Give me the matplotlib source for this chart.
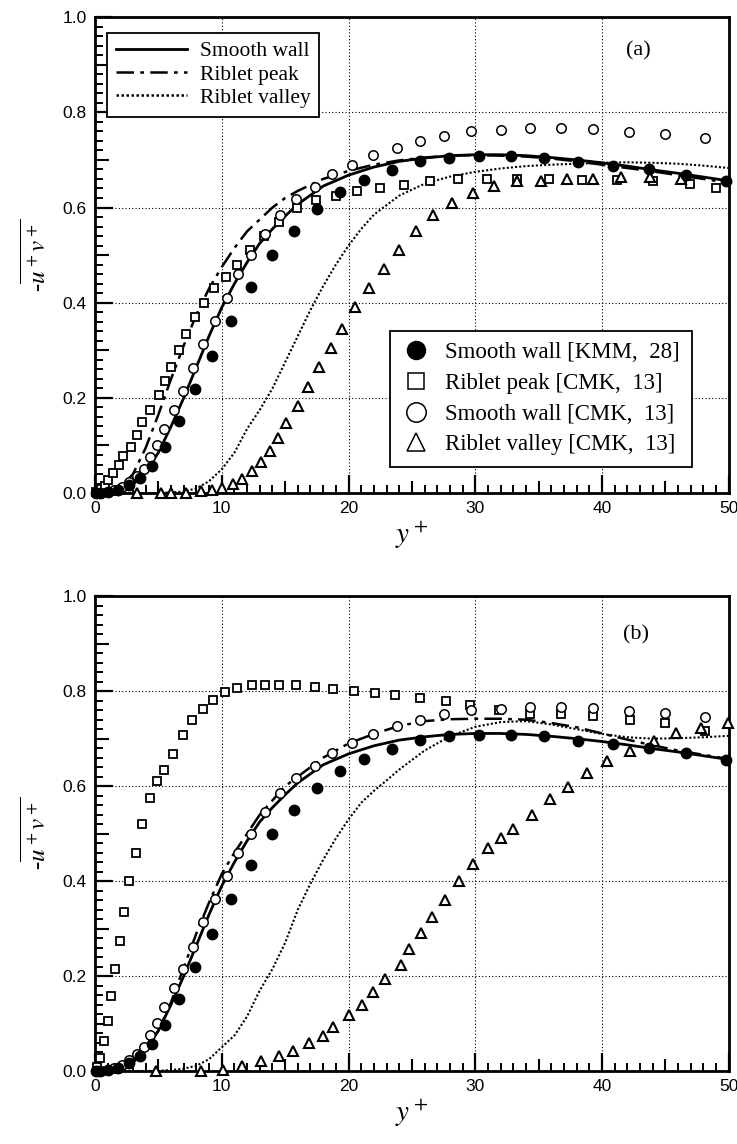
import matplotlib
matplotlib.use("Agg")
import matplotlib.pyplot as plt
from matplotlib.lines import Line2D
from matplotlib.ticker import MultipleLocator

plt.rcParams["mathtext.fontset"] = "stix"

# ---- shared data (both panels) ----
kmm_y = [0.05, 0.4, 1.05, 1.84, 2.7, 3.55, 4.47, 5.5, 6.6, 7.9, 9.2, 10.7, 12.3, 14.0,
         15.7, 17.5, 19.3, 21.2, 23.4, 25.6, 27.9, 30.3, 32.8, 35.4, 38.1, 40.9, 43.7,
         46.6, 49.8]
kmm_uv = [0.0, 0.0, 0.002, 0.006, 0.016, 0.031, 0.057, 0.096, 0.151, 0.219, 0.289, 0.362,
          0.433, 0.5, 0.55, 0.597, 0.632, 0.658, 0.679, 0.698, 0.705, 0.708, 0.708, 0.705,
          0.696, 0.688, 0.681, 0.669, 0.656]

cmk_s_y = [0.1, 0.5, 1.0, 1.5, 2.1, 2.68, 3.3, 3.87, 4.34, 4.87, 5.45, 6.24, 6.97, 7.7,
           8.55, 9.47, 10.4, 11.3, 12.3, 13.4, 14.6, 15.87, 17.37, 18.7, 20.3, 21.9, 23.8,
           25.6, 27.5, 29.7, 32.0, 34.3, 36.8, 39.3, 42.1, 45.0, 48.1]
cmk_s_uv = [0.0, 0.001, 0.003, 0.007, 0.013, 0.023, 0.035, 0.051, 0.075, 0.101, 0.134,
            0.174, 0.215, 0.262, 0.313, 0.362, 0.41, 0.46, 0.5, 0.545, 0.585, 0.617, 0.643,
            0.67, 0.69, 0.71, 0.726, 0.739, 0.751, 0.76, 0.763, 0.767, 0.767, 0.765, 0.758,
            0.754, 0.746]

grid_y = [0, 1, 2, 3, 4, 5, 6, 7, 8, 9, 10, 11, 12, 13, 14, 15, 16, 18, 20, 22, 24, 26,
          28, 30, 32, 34, 36, 38, 40, 42, 44, 46, 48, 50]
smooth_uv = [0, 0.001, 0.005, 0.018, 0.045, 0.085, 0.14, 0.2, 0.265, 0.33, 0.39, 0.44,
             0.485, 0.525, 0.555, 0.582, 0.607, 0.645, 0.668, 0.685, 0.697, 0.704, 0.709,
             0.711, 0.711, 0.709, 0.705, 0.7, 0.694, 0.687, 0.679, 0.672, 0.664, 0.656]

# ---- panel (a) ----
peak_a_uv = [0, 0.002, 0.012, 0.04, 0.095, 0.165, 0.24, 0.31, 0.375, 0.43, 0.475, 0.515,
             0.55, 0.575, 0.6, 0.62, 0.635, 0.66, 0.677, 0.69, 0.699, 0.705, 0.709, 0.71,
             0.709, 0.707, 0.703, 0.697, 0.69, 0.683, 0.676, 0.668, 0.66, 0.652]
valley_a_y = [0, 5, 7, 8, 9, 10, 11, 12, 13, 14, 15, 16, 17, 18, 19, 20, 21, 22, 24, 26,
              28, 30, 32, 34, 36, 38, 40, 42, 44, 46, 48, 50]
valley_a_uv = [0, 0, 0.003, 0.01, 0.025, 0.05, 0.085, 0.135, 0.175, 0.22, 0.275, 0.33,
               0.385, 0.435, 0.48, 0.52, 0.555, 0.585, 0.625, 0.65, 0.665, 0.675, 0.682,
               0.687, 0.69, 0.692, 0.694, 0.695, 0.694, 0.692, 0.688, 0.683]

sq_a_y = [0.1, 0.45, 0.75, 1.05, 1.4, 1.9, 2.23, 2.83, 3.28, 3.67, 4.33, 5.07, 5.5, 6.0,
          6.6, 7.2, 7.9, 8.6, 9.4, 10.3, 11.2, 12.2, 13.3, 14.5, 15.9, 17.4, 19.0, 20.7,
          22.5, 24.4, 26.4, 28.6, 30.9, 33.3, 35.8, 38.4, 41.2, 44.0, 46.9, 49.0]
sq_a_uv = [0.003, 0.008, 0.015, 0.028, 0.042, 0.058, 0.077, 0.096, 0.123, 0.149, 0.175,
           0.207, 0.235, 0.265, 0.3, 0.335, 0.37, 0.4, 0.43, 0.455, 0.48, 0.51, 0.54, 0.57,
           0.6, 0.615, 0.625, 0.635, 0.64, 0.648, 0.655, 0.66, 0.66, 0.66, 0.66, 0.658,
           0.658, 0.655, 0.65, 0.64]

tr_a_y = [3.3, 5.2, 6.0, 7.2, 8.4, 9.2, 10.0, 10.9, 11.6, 12.4, 13.1, 13.8, 14.4, 15.1,
          16.0, 16.8, 17.7, 18.6, 19.5, 20.5, 21.6, 22.8, 24.0, 25.3, 26.7, 28.2, 29.8,
          31.5, 33.3, 35.2, 37.2, 39.3, 41.5, 43.8, 46.2]
tr_a_uv = [0.0, 0.0, 0.0, 0.0, 0.004, 0.007, 0.01, 0.018, 0.03, 0.046, 0.065, 0.089, 0.116,
           0.147, 0.182, 0.223, 0.265, 0.305, 0.345, 0.39, 0.43, 0.47, 0.51, 0.55, 0.585,
           0.61, 0.63, 0.645, 0.655, 0.655, 0.66, 0.66, 0.665, 0.665, 0.66]

# ---- panel (b) ----
peak_b_uv = [0, 0.001, 0.006, 0.02, 0.045, 0.085, 0.145, 0.218, 0.29, 0.355, 0.415, 0.46,
             0.5, 0.54, 0.57, 0.6, 0.62, 0.66, 0.69, 0.71, 0.727, 0.737, 0.741, 0.742,
             0.742, 0.74, 0.733, 0.724, 0.711, 0.698, 0.686, 0.675, 0.666, 0.657]
valley_b_y = [0, 2, 4, 5, 6, 7, 8, 9, 10, 11, 12, 13, 14, 15, 16, 17, 18, 19, 20, 21, 22,
              23, 24, 25, 26, 28, 30, 32, 34, 36, 38, 40, 42, 44, 46, 48, 50]
valley_b_uv = [0, 0, 0, 0.0005, 0.002, 0.005, 0.011, 0.025, 0.05, 0.075, 0.115, 0.17,
               0.215, 0.27, 0.34, 0.395, 0.445, 0.49, 0.53, 0.565, 0.59, 0.612, 0.635,
               0.655, 0.675, 0.705, 0.725, 0.735, 0.737, 0.73, 0.72, 0.71, 0.703, 0.7,
               0.701, 0.703, 0.706]

sq_b_y = [0.13, 0.4, 0.7, 1.0, 1.3, 1.6, 1.95, 2.3, 2.7, 3.2, 3.7, 4.3, 4.9, 5.47, 6.18,
          6.92, 7.66, 8.55, 9.29, 10.29, 11.18, 12.37, 13.4, 14.55, 15.87, 17.37, 18.8,
          20.4, 22.05, 23.7, 25.6, 27.7, 29.6, 31.9, 34.3, 36.8, 39.3, 42.2, 45.0, 48.1]
sq_b_uv = [0.009, 0.028, 0.063, 0.105, 0.157, 0.215, 0.274, 0.335, 0.4, 0.46, 0.52,
           0.575, 0.61, 0.635, 0.668, 0.707, 0.739, 0.763, 0.782, 0.798, 0.806, 0.813,
           0.813, 0.813, 0.813, 0.808, 0.805, 0.801, 0.796, 0.793, 0.786, 0.779, 0.771,
           0.761, 0.753, 0.751, 0.748, 0.739, 0.732, 0.717]

tr_b_y = [4.8, 8.4, 10.1, 11.6, 13.1, 14.55, 15.6, 16.9, 17.97, 18.8, 20.0, 21.05, 21.9,
          22.9, 24.1, 24.8, 25.7, 26.6, 27.6, 28.7, 29.8, 31.0, 32.0, 33.0, 34.5, 35.9,
          37.3, 38.8, 40.4, 42.2, 44.1, 45.8, 47.8, 49.9]
tr_b_uv = [0.0, 0.0, 0.002, 0.011, 0.021, 0.031, 0.042, 0.06, 0.074, 0.092, 0.118, 0.139,
           0.167, 0.194, 0.224, 0.256, 0.29, 0.325, 0.36, 0.4, 0.435, 0.47, 0.49, 0.51,
           0.539, 0.572, 0.599, 0.627, 0.654, 0.674, 0.696, 0.713, 0.723, 0.733]

SERIF = "Liberation Serif"
SANS = "Liberation Sans"
DASHDOT = (0, (7, 2.5, 1.5, 2.5))
DOTTED = (0, (1, 1))

fig = plt.figure(figsize=(7.37, 11.44), dpi=100)
ax_a = fig.add_axes([0.1289, 0.569, 0.860, 0.416])
ax_b = fig.add_axes([0.1289, 0.0638, 0.860, 0.415])


def style_axes(ax):
    ax.set_xlim(0, 50)
    ax.set_ylim(0, 1.0)
    ax.xaxis.set_major_locator(MultipleLocator(10))
    ax.xaxis.set_minor_locator(MultipleLocator(1))
    ax.yaxis.set_major_locator(MultipleLocator(0.2))
    ax.yaxis.set_minor_locator(MultipleLocator(0.02))
    ax.xaxis.set_major_formatter(plt.FuncFormatter(lambda v, p: f"{v:.0f}"))
    ax.yaxis.set_major_formatter(plt.FuncFormatter(lambda v, p: f"{v:.1f}"))
    ax.tick_params(which="major", direction="in", length=13, width=1.6,
                   top=False, right=False, labelsize=12.5, pad=6)
    ax.tick_params(which="minor", direction="in", length=6, width=1.4,
                   top=False, right=False)
    for lab in ax.get_xticklabels() + ax.get_yticklabels():
        lab.set_fontfamily(SANS)
    for s in ax.spines.values():
        s.set_linewidth(2.0)
    ax.grid(which="major", ls=(0, (1, 2)), lw=0.8, color="k")
    # medium ticks at 5s / 0.1s
    sx = ax.secondary_xaxis("bottom")
    sx.set_xticks([5, 15, 25, 35, 45])
    sx.tick_params(direction="in", length=9, width=1.5, labelbottom=False)
    sx.spines["bottom"].set_visible(False)
    sy = ax.secondary_yaxis("left")
    sy.set_yticks([0.1, 0.3, 0.5, 0.7, 0.9])
    sy.tick_params(direction="in", length=10, width=1.5, labelleft=False)
    sy.spines["left"].set_visible(False)
    ax.set_xlabel(r"$y^+$", fontsize=21, labelpad=2)
    ax.set_ylabel(r"-$\overline{u^+v^+}$", fontsize=18, labelpad=8, family=SERIF)


def markers(ax, sq_y, sq_uv, tr_y, tr_uv):
    ax.plot(kmm_y, kmm_uv, "o", ms=7.5, mfc="k", mec="k", zorder=6, clip_on=False)
    ax.plot(sq_y, sq_uv, "s", ms=6.3, mfc="white", mec="k", mew=1.3, zorder=5, clip_on=False)
    ax.plot(cmk_s_y, cmk_s_uv, "o", ms=6.8, mfc="white", mec="k", mew=1.1, zorder=5,
            clip_on=False)
    ax.plot(tr_y, tr_uv, "^", ms=6.8, mfc="white", mec="k", mew=1.5, zorder=5, clip_on=False)


# ---- panel (a) ----
ax = ax_a
style_axes(ax)
ax.plot(grid_y, smooth_uv, "-", color="k", lw=2.0, zorder=4)
ax.plot(grid_y, peak_a_uv, ls=DASHDOT, color="k", lw=1.8, zorder=4)
ax.plot(valley_a_y, valley_a_uv, ls=DOTTED, color="k", lw=1.5, zorder=4)
markers(ax, sq_a_y, sq_a_uv, tr_a_y, tr_a_uv)
ax.text(42.9, 0.93, "(a)", fontsize=16, family=SERIF, ha="center", va="center")

line_handles = [
    Line2D([], [], color="k", lw=2.0, ls="-"),
    Line2D([], [], color="k", lw=1.8, ls=DASHDOT),
    Line2D([], [], color="k", lw=1.8, ls=DOTTED),
]
leg1 = ax.legend(line_handles, ["Smooth wall", "Riblet peak", "Riblet valley"],
                 loc="upper left", bbox_to_anchor=(0.002, 0.99), handlelength=3.3,
                 fancybox=False, framealpha=1, edgecolor="k", borderpad=0.4,
                 labelspacing=0.15, handletextpad=0.6,
                 prop={"family": SERIF, "size": 15.5})
leg1.get_frame().set_linewidth(1.3)
ax.add_artist(leg1)

mk_handles = [
    Line2D([], [], ls="none", marker="o", ms=13, mfc="k", mec="k"),
    Line2D([], [], ls="none", marker="s", ms=11, mfc="white", mec="k", mew=1.1),
    Line2D([], [], ls="none", marker="o", ms=14, mfc="white", mec="k", mew=1.1),
    Line2D([], [], ls="none", marker="^", ms=13, mfc="white", mec="k", mew=1.1),
]
leg2 = ax.legend(mk_handles, ["Smooth wall [KMM,  28]", "Riblet peak [CMK,  13]",
                              "Smooth wall [CMK,  13]", "Riblet valley [CMK,  13]"],
                 loc="upper left", bbox_to_anchor=(0.448, 0.365), handlelength=1.2,
                 fancybox=False, framealpha=1, edgecolor="k", borderpad=0.5,
                 labelspacing=0.42, handletextpad=0.7,
                 prop={"family": SERIF, "size": 16.5})
leg2.get_frame().set_linewidth(1.3)

# ---- panel (b) ----
ax = ax_b
style_axes(ax)
ax.plot(grid_y, smooth_uv, "-", color="k", lw=2.0, zorder=4)
ax.plot(grid_y, peak_b_uv, ls=DASHDOT, color="k", lw=1.8, zorder=4)
ax.plot(valley_b_y, valley_b_uv, ls=DOTTED, color="k", lw=1.5, zorder=4)
markers(ax, sq_b_y, sq_b_uv, tr_b_y, tr_b_uv)
ax.text(42.7, 0.918, "(b)", fontsize=16, family=SERIF, ha="center", va="center")

fig.savefig("out.png", dpi=100)
